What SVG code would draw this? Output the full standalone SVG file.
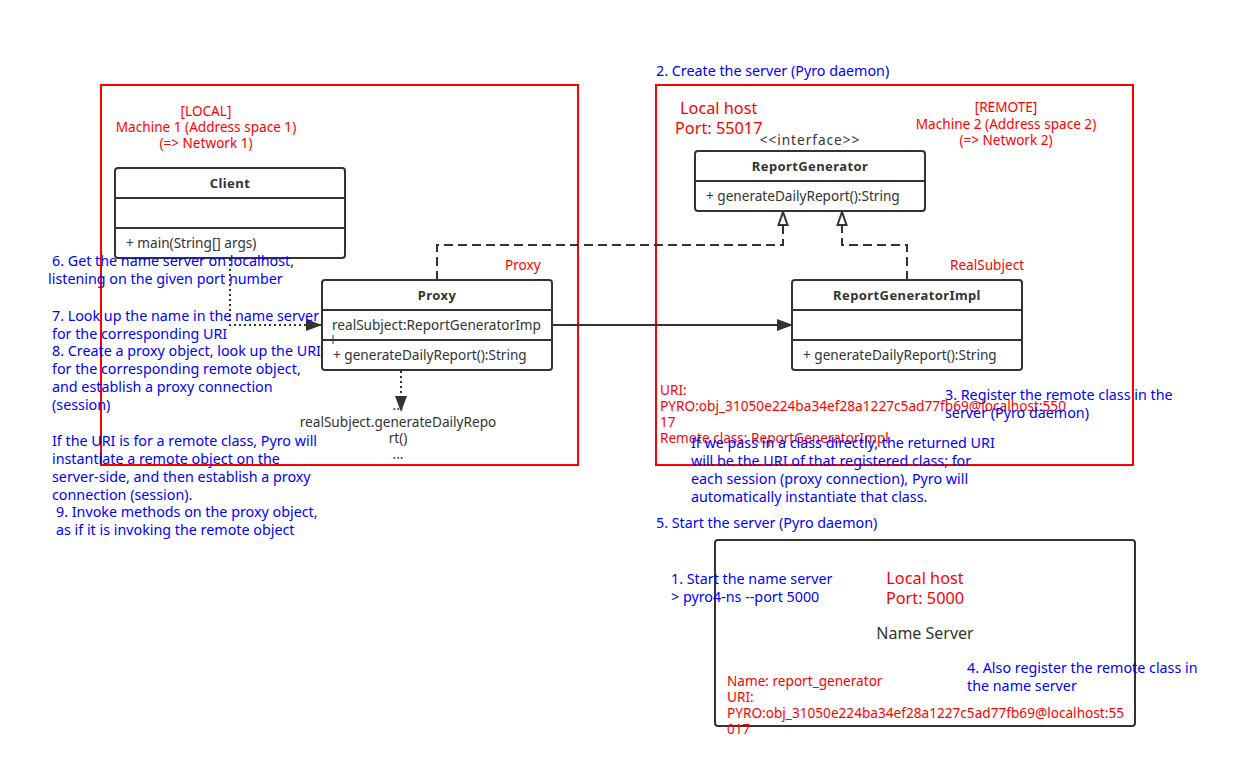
<svg xmlns="http://www.w3.org/2000/svg" width="1247" height="759" viewBox="0 0 1247 759">
  <style>
    .t { font-family: "Noto Sans", "Liberation Sans", Arial, sans-serif; }
    .blue { fill: #0000ff; font-size: 14.3px; }
    .red { fill: #ff0000; font-size: 13.6px; }
    .redL { fill: #ff0000; font-size: 16.3px; }
    .dark { fill: #333333; font-size: 13.6px; }
    .title { fill: #333333; font-size: 13px; font-weight: bold; letter-spacing: 0.4px; }
    .frame { fill: none; stroke: #ff0000; stroke-width: 2; }
    .box { fill: #ffffff; stroke: #333333; stroke-width: 2; }
    .div { stroke: #333333; stroke-width: 2; }
    .dash { fill: none; stroke: #333333; stroke-width: 2; stroke-dasharray: 9 5; }
    .dot { fill: none; stroke: #333333; stroke-width: 2; stroke-dasharray: 2 3; }
    .solid { fill: none; stroke: #333333; stroke-width: 2; }
  </style>
  <defs>
    <marker id="filled" markerWidth="16" markerHeight="12" refX="15" refY="6" orient="auto" markerUnits="userSpaceOnUse">
      <path d="M0,0 L16,6 L0,12 Z" fill="#333333"/>
    </marker>
    <marker id="hollow" markerWidth="16" markerHeight="12" refX="14" refY="6" orient="auto" markerUnits="userSpaceOnUse">
      <path d="M1,1.5 L14,6 L1,10.5 Z" fill="#ffffff" stroke="#333333" stroke-width="2"/>
    </marker>
  </defs>
  <rect width="1247" height="759" fill="#ffffff"/>

  <!-- machine frames -->
  <g id="machine1">
    <rect class="frame" x="101" y="85" width="477" height="380"/>
    <text class="t red" text-anchor="middle" x="206" y="116">[LOCAL]</text>
    <text class="t red" text-anchor="middle" x="206" y="132">Machine 1 (Address space 1)</text>
    <text class="t red" text-anchor="middle" x="206" y="148">(=&gt; Network 1)</text>
  </g>
  <g id="machine2">
    <rect class="frame" x="656" y="85" width="477" height="380"/>
    <text class="t blue" x="656" y="76">2. Create the server (Pyro daemon)</text>
    <text class="t redL" x="680" y="114">Local host</text>
    <text class="t redL" x="675" y="134">Port: 55017</text>
    <text class="t red" text-anchor="middle" x="1006" y="112">[REMOTE]</text>
    <text class="t red" text-anchor="middle" x="1006" y="129">Machine 2 (Address space 2)</text>
    <text class="t red" text-anchor="middle" x="1006" y="145">(=&gt; Network 2)</text>
  </g>

  <!-- connectors -->
  <g id="connectors">
    <path class="dash" d="M437,280 V245 H783 V212" marker-end="url(#hollow)"/>
    <path class="dash" d="M907,280 V245 H842 V212" marker-end="url(#hollow)"/>
    <path class="solid" d="M552,325 H792" marker-end="url(#filled)"/>
    <path class="dot" d="M230,259 V325 H321" marker-end="url(#filled)"/>
    <path class="dot" d="M401,371 V411" marker-end="url(#filled)"/>
  </g>

  <g id="client">
    <rect class="box" x="115" y="168" width="230" height="90" rx="3"/>
    <line class="div" x1="115" y1="198" x2="345" y2="198"/>
    <line class="div" x1="115" y1="228" x2="345" y2="228"/>
    <text class="t title" text-anchor="middle" x="230" y="188">Client</text>
    <text class="t dark" x="126" y="248">+ main(String[] args)</text>
  </g>

  <g id="proxy">
    <rect class="box" x="322" y="280" width="230" height="90" rx="3"/>
    <line class="div" x1="322" y1="310" x2="552" y2="310"/>
    <line class="div" x1="322" y1="340" x2="552" y2="340"/>
    <text class="t title" text-anchor="middle" x="437" y="300">Proxy</text>
    <text class="t dark" x="332" y="330">realSubject:ReportGeneratorImp</text>
    <line x1="333" y1="335" x2="333" y2="344" stroke="#333333" stroke-width="1"/>
    <text class="t dark" x="333" y="360">+ generateDailyReport():String</text>
    <text class="t red" x="505" y="270">Proxy</text>
  </g>

  <g id="proxy-call">
    <text class="t dark" text-anchor="middle" x="398" y="410">...</text>
    <text class="t dark" text-anchor="middle" x="398" y="427">realSubject.generateDailyRepo</text>
    <text class="t dark" text-anchor="middle" x="398" y="443">rt()</text>
    <text class="t dark" text-anchor="middle" x="398" y="459">...</text>
  </g>

  <g id="report-generator">
    <text class="t dark" text-anchor="middle" x="810" y="145" letter-spacing="1">&lt;&lt;interface&gt;&gt;</text>
    <rect class="box" x="695" y="151" width="230" height="60" rx="3"/>
    <line class="div" x1="695" y1="181" x2="925" y2="181"/>
    <text class="t title" text-anchor="middle" x="810" y="171">ReportGenerator</text>
    <text class="t dark" x="706" y="201">+ generateDailyReport():String</text>
  </g>

  <g id="report-generator-impl">
    <rect class="box" x="792" y="280" width="230" height="90" rx="3"/>
    <line class="div" x1="792" y1="310" x2="1022" y2="310"/>
    <line class="div" x1="792" y1="340" x2="1022" y2="340"/>
    <text class="t title" text-anchor="middle" x="907" y="300">ReportGeneratorImpl</text>
    <text class="t dark" x="803" y="360">+ generateDailyReport():String</text>
    <text class="t red" x="950" y="270">RealSubject</text>
  </g>

  <g id="remote-uri">
    <text class="t red" x="660" y="395">URI:</text>
    <text class="t red" x="660" y="411" textLength="406" lengthAdjust="spacingAndGlyphs">PYRO:obj_31050e224ba34ef28a1227c5ad77fb69@localhost:550</text>
    <text class="t red" x="660" y="427">17</text>
    <text class="t red" x="660" y="443">Remote class: ReportGeneratorImpl</text>
  </g>

  <g id="notes-client">
    <text class="t blue" x="52" y="266">6. Get the name server on localhost,</text>
    <text class="t blue" x="48" y="284">listening on the given port number</text>
    <text class="t blue" x="52" y="321">7. Look up the name in the name server</text>
    <text class="t blue" x="52" y="339">for the corresponding URI</text>
    <text class="t blue" x="52" y="356">8. Create a proxy object, look up the URI</text>
    <text class="t blue" x="52" y="374">for the corresponding remote object,</text>
    <text class="t blue" x="52" y="392">and establish a proxy connection</text>
    <text class="t blue" x="52" y="410">(session)</text>
    <text class="t blue" x="52" y="446">If the URI is for a remote class, Pyro will</text>
    <text class="t blue" x="52" y="464">instantiate a remote object on the</text>
    <text class="t blue" x="52" y="482">server-side, and then establish a proxy</text>
    <text class="t blue" x="52" y="500">connection (session).</text>
    <text class="t blue" x="56" y="517">9. Invoke methods on the proxy object,</text>
    <text class="t blue" x="56" y="535">as if it is invoking the remote object</text>
  </g>

  <g id="notes-server">
    <text class="t blue" x="945" y="400">3. Register the remote class in the</text>
    <text class="t blue" x="945" y="418">server (Pyro daemon)</text>
    <text class="t blue" x="691" y="448">If we pass in a class directly, the returned URI</text>
    <text class="t blue" x="691" y="466">will be the URI of that registered class; for</text>
    <text class="t blue" x="691" y="484">each session (proxy connection), Pyro will</text>
    <text class="t blue" x="691" y="502">automatically instantiate that class.</text>
    <text class="t blue" x="656" y="528">5. Start the server (Pyro daemon)</text>
  </g>

  <g id="name-server">
    <rect class="box" x="715" y="540" width="420" height="186" rx="3"/>
    <text class="t redL" text-anchor="middle" x="925" y="584">Local host</text>
    <text class="t redL" text-anchor="middle" x="925" y="604">Port: 5000</text>
    <text class="t" fill="#333333" font-size="16" text-anchor="middle" x="925" y="639">Name Server</text>
    <text class="t red" x="727" y="686">Name: report_generator</text>
    <text class="t red" x="727" y="702">URI:</text>
    <text class="t red" x="727" y="718" textLength="397" lengthAdjust="spacingAndGlyphs">PYRO:obj_31050e224ba34ef28a1227c5ad77fb69@localhost:55</text>
    <text class="t red" x="727" y="734">017</text>
    <text class="t blue" x="671" y="584">1. Start the name server</text>
    <text class="t blue" x="671" y="602">&gt; pyro4-ns --port 5000</text>
    <text class="t blue" x="967" y="673">4. Also register the remote class in</text>
    <text class="t blue" x="967" y="691">the name server</text>
  </g>
</svg>
